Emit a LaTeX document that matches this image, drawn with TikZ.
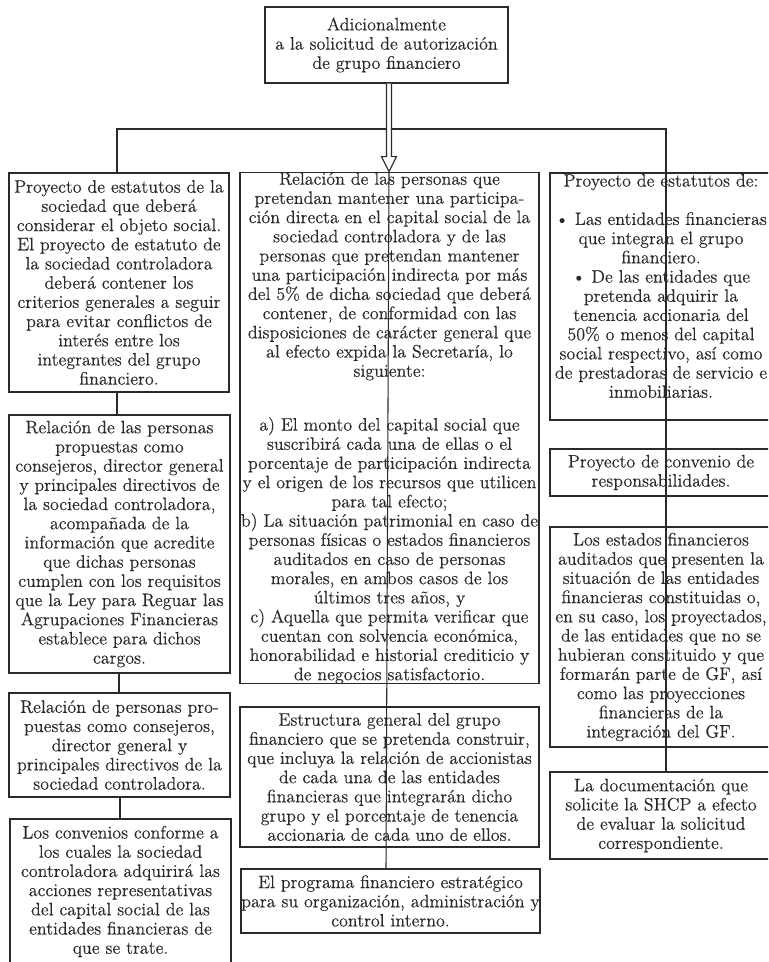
\documentclass[tikz,border=0pt]{standalone}
\usepackage{fontspec}
\setmainfont{Latin Modern Roman}[FakeBold=0.25]
\usetikzlibrary{calc}
\definecolor{ink}{HTML}{2A2A2A}
\newcommand\fsz{\fontsize{13.5}{14.4}\selectfont}
\begin{document}
\begin{tikzpicture}[x=0.75pt,y=-0.75pt,
  box/.style={draw=ink,line width=0.8pt,rectangle,inner sep=0pt,align=center,text=ink,font=\fsz},
  txt/.style={inner sep=0pt,align=center,text=ink,font=\fsz},
  wire/.style={draw=ink,line width=0.8pt}]
\useasboundingbox (0,0) rectangle (768,962);
\clip (0,0) rectangle (768,962);
\fill[white] (0,0) rectangle (768,962);

% top
\node[box,minimum width=243*0.75pt,minimum height=76*0.75pt] (top) at (386.5,45)
 {Adicionalmente\\ a la solicitud de autorización\\ de grupo financiero};

% left column
\node[box,minimum width=220*0.75pt,minimum height=219*0.75pt] (L1) at (119,282.5)
 {Proyecto de estatutos de la\\ sociedad que deberá\\ considerar el objeto social.\\ El proyecto de estatuto de\\ la sociedad controladora\\ deberá contener los\\ criterios generales a seguir\\ para evitar conflictos de\\ interés entre los\\ integrantes del grupo\\ financiero.};
\node[box,minimum width=221*0.75pt,minimum height=258*0.75pt] (L2) at (119.5,544)
 {Relación de las personas\\ propuestas como\\ consejeros, director general\\ y principales directivos de\\ la sociedad controladora,\\ acompañada de la\\ información que acredite\\ que dichas personas\\ cumplen con los requisitos\\ que la Ley para Reguar las\\ Agrupaciones Financieras\\ establece para dichos\\ cargos.};
\node[box,minimum width=221*0.75pt,minimum height=104*0.75pt] (L3) at (119.5,745)
 {Relación de personas pro-\\ puestas como consejeros,\\ director general y\\ principales directivos de la\\ sociedad controladora.};
\node[box,minimum width=221*0.75pt,minimum height=145*0.75pt] (L4) at (120.5,891.5)
 {Los convenios conforme a\\ los cuales la sociedad\\ controladora adquirirá las\\ acciones representativas\\ del capital social de las\\ entidades financieras de\\ que se trate.};

% middle column
\node[box,minimum width=299*0.75pt,minimum height=510*0.75pt] (M1) at (389.5,428)
 {Relación de las personas que\\ pretendan mantener una participa-\\ ción directa en el capital social de la\\ sociedad controladora y de las\\ personas que pretendan mantener\\ una participación indirecta por más\\ del 5\% de dicha sociedad que deberá\\ contener, de conformidad con las\\ disposiciones de carácter general que\\ al efecto expida la Secretaría, lo\\ siguiente:\\[26pt] a) El monto del capital social que\\ suscribirá cada una de ellas o el\\ porcentaje de participación indirecta\\ y el origen de los recursos que utilicen\\ para tal efecto;\\ b) La situación patrimonial en caso de\\ personas físicas o estados financieros\\ auditados en caso de personas\\ morales, en ambos casos de los\\ últimos tres años, y\\ c) Aquella que permita verificar que\\ cuentan con solvencia económica,\\ honorabilidad e historial crediticio y\\ de negocios satisfactorio.};
\node[box,minimum width=299*0.75pt,minimum height=140*0.75pt] (M2) at (389.5,777)
 {Estructura general del grupo\\ financiero que se pretenda construir,\\ que incluya la relación de accionistas\\ de cada una de las entidades\\ financieras que integrarán dicho\\ grupo y el porcentaje de tenencia\\ accionaria de cada uno de ellos.};
\node[box,minimum width=299*0.75pt,minimum height=64*0.75pt] (M3) at (390.5,901)
 {El programa financiero estratégico\\ para su organización, administración y\\ control interno.};

% right column
\node[box,minimum width=222*0.75pt,minimum height=247*0.75pt] (R1) at (661,296.5) {};
\node[txt] (R1t) at ($(R1.center)+(0,-10.5)$)
 {Proyecto de estatutos de:\\[14.4pt] \textbullet{} Las entidades financieras\\ que integran el grupo\\ financiero.\\ \textbullet{} De las entidades que\\ pretenda adquirir la\\ tenencia accionaria del\\ 50\% o menos del capital\\ social respectivo, así como\\ de prestadoras de servicio e\\ inmobiliarias.};
\node[box,minimum width=222*0.75pt,minimum height=47*0.75pt] (R2) at (661,472.5)
 {Proyecto de convenio de\\ responsabilidades.};
\node[box,minimum width=222*0.75pt,minimum height=220*0.75pt] (R3) at (661,637)
 {Los estados financieros\\ auditados que presenten la\\ situación de las entidades\\ financieras constituidas o,\\ en su caso, los proyectados,\\ de las entidades que no se\\ hubieran constituido y que\\ formarán parte de GF, así\\ como las proyecciones\\ financieras de la\\ integración del GF.};
\node[box,minimum width=222*0.75pt,minimum height=87*0.75pt] (R4) at (661,815.5)
 {La documentación que\\ solicite la SHCP a efecto\\ de evaluar la solicitud\\ correspondiente.};

% connectors
\coordinate (busL) at (117,129);
\coordinate (busR) at (666,129);
\coordinate (ac) at (389,0);
\coordinate (mc) at (386,0);
\coordinate (c1) at (117,0);
\coordinate (c2) at (119,0);
\coordinate (c3) at (120,0);

\draw[wire] (L1.north -| busL) -- (busL) -- (busR) -- (R4.north -| busR);
\draw[wire] (L1.south -| c1) -- (L2.north -| c1);
\draw[wire] (L2.south -| c2) -- (L3.north -| c2);
\draw[wire] (L3.south -| c3) -- (L4.north -| c3);

\draw[wire,fill=white] ($(top.south -| ac)+(-2.5,0)$) -- ($(M1.north -| ac)+(-2.5,-15)$)
  -- ++(-5,0) -- (M1.north -| ac) -- ($(M1.north -| ac)+(7.5,-15)$) -- ++(-5,0)
  -- ($(top.south -| ac)+(2.5,0)$);
\draw[wire] (M1.north -| ac) -- (M3.north -| mc);
\end{tikzpicture}
\end{document}
